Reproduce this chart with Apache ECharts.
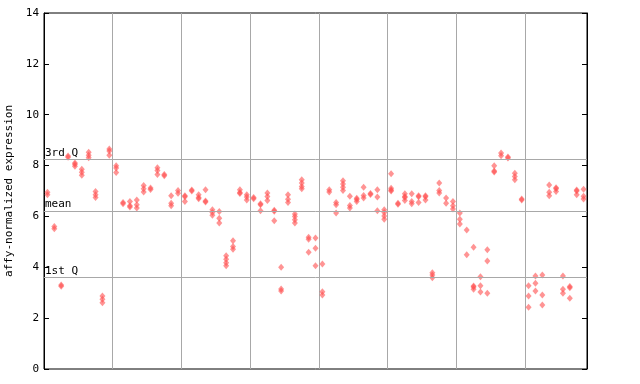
<!DOCTYPE html>
<html>
<head>
<meta charset="utf-8">
<script src="https://cdn.jsdelivr.net/npm/echarts@6/dist/echarts.min.js"></script>
<style>html,body{margin:0;padding:0;background:#fff}#c{width:640px;height:384px}</style>
</head>
<body>
<div id="c"></div>
<script>
// expression values per sample column, in eight groups (separated by vertical grid lines)
const group1 = [[6.95,6.85],[5.6,5.52],[3.3,3.25],[8.38,8.33],[8.1,8.05,7.97],[7.86,7.74,7.62],[8.52,8.41,8.31],[6.98,6.85,6.74],[2.87,2.74,2.61],[8.65,8.57,8.41]];
const group2 = [[7.99,7.9,7.73],[6.55,6.5],[6.59,6.42,6.37],[6.65,6.46,6.33],[7.22,7.09,6.96],[7.12,7.06],[7.91,7.81,7.65],[7.65,7.6],[6.81,6.52,6.42],[7.02,6.91]];
const group3 = [[6.81,6.77,6.59],[7.04,7.0],[6.85,6.74,6.7],[7.05,6.61,6.57],[6.26,6.15,6.05],[6.19,5.93,5.74],[4.45,4.32,4.18,4.06],[5.04,4.82,4.71],[7.05,6.94,6.9],[6.85,6.76,6.65]];
const group4 = [[6.74,6.7],[6.5,6.46,6.22],[6.92,6.78,6.63],[6.24,6.2,5.83],[4.0,3.15,3.07],[6.85,6.68,6.55],[6.1,6.0,5.87,5.74],[7.44,7.31,7.18,7.09],[5.18,5.1,4.59],[5.15,4.75,4.06]];
const group5 = [[4.13,3.04,2.91],[7.05,6.96],[6.55,6.46,6.13],[7.4,7.28,7.15,7.02],[6.79,6.43,6.33],[6.71,6.67,6.59],[7.15,6.82,6.72],[6.9,6.86],[7.05,6.76,6.22],[6.26,6.15,6.02,5.89]];
const group6 = [[7.68,7.11,7.04,7.0],[6.52,6.48],[6.89,6.78,6.74,6.63],[6.89,6.59,6.5],[6.81,6.77,6.55],[6.81,6.77,6.65],[3.79,3.7,3.59],[7.31,7.02,6.92],[6.72,6.52],[6.59,6.42,6.29]];
const group7 = [[6.13,5.89,5.7],[5.47,4.49],[4.79,3.26,3.22,3.14],[3.63,3.27,3.03],[4.69,4.25,2.98],[7.99,7.79,7.75],[8.49,8.39],[8.34,8.3],[7.7,7.57,7.44],[6.69,6.65]];
const group8 = [[3.27,2.87,2.43],[3.66,3.37,3.07],[3.7,2.91,2.52],[7.24,6.95,6.81],[7.13,7.09,6.98],[3.66,3.14,2.98],[3.24,3.2,2.78],[7.04,7.0,6.85],[7.07,6.79,6.69]];

const refValues = [8.23, 6.21, 3.61];
const refLabels = ['3rd Q', 'mean', '1st Q'];
const yTicks = [0, 2, 4, 6, 8, 10, 12, 14];
const yTitle = 'affy-normalized expression';

const columns = [].concat(group1, group2, group3, group4, group5, group6, group7, group8);
const points = [];
columns.forEach((vals, i) => vals.forEach(v => points.push([i + 0.5, v])));

const mono = 'DejaVu Sans Mono';
const chart = echarts.init(document.getElementById('c'), null, {renderer: 'canvas'});
chart.setOption({
  animation: false,
  backgroundColor: '#fff',
  grid: {left: 44, right: 53, top: 13, bottom: 15, containLabel: false, outerBoundsMode: 'none',
         show: true, borderColor: '#000', borderWidth: 1, backgroundColor: 'transparent'},
  xAxis: {
    type: 'value', min: 0, max: columns.length, interval: 10,
    axisLine: {show: false}, axisTick: {show: false}, axisLabel: {show: false},
    splitLine: {show: true, lineStyle: {color: '#a8a8a8', width: 1}}
  },
  yAxis: [{
    type: 'value', min: yTicks[0], max: yTicks[yTicks.length - 1], interval: 2,
    name: yTitle, nameLocation: 'middle', nameGap: 26,
    nameTextStyle: {fontFamily: mono, fontSize: 11, color: '#000'},
    axisLine: {show: true, lineStyle: {color: '#000'}},
    axisTick: {show: true, inside: true, length: 5, lineStyle: {color: '#000'}},
    axisLabel: {fontFamily: mono, fontSize: 11, color: '#000', margin: 5},
    splitLine: {show: false}
  }, {
    type: 'value', position: 'right', min: yTicks[0], max: yTicks[yTicks.length - 1], interval: 2,
    axisLine: {show: true, lineStyle: {color: '#000'}},
    axisTick: {show: true, inside: true, length: 5, lineStyle: {color: '#000'}},
    axisLabel: {show: false}, splitLine: {show: false}
  }],
  series: [{
    type: 'scatter',
    data: points,
    symbol: 'diamond',
    symbolSize: [6, 7],
    itemStyle: {color: '#ff4d4d', opacity: 0.6},
    markLine: {
      silent: true, symbol: 'none', animation: false,
      lineStyle: {color: '#a8a8a8', type: 'solid', width: 1},
      label: {position: 'insideStartTop', distance: [1, 1], fontFamily: mono, fontSize: 11, color: '#000', padding: 0,
              formatter: p => p.name},
      data: refValues.map((v, i) => ({yAxis: v, name: refLabels[i]}))
    }
  }]
});
</script>
</body>
</html>
